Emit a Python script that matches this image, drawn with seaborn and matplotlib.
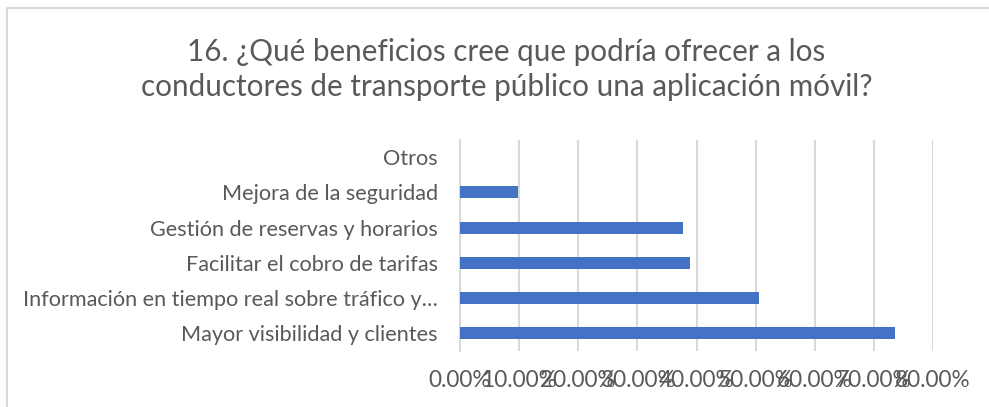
import matplotlib
matplotlib.use("Agg")
import matplotlib.pyplot as plt
from matplotlib.ticker import FuncFormatter
from matplotlib.lines import Line2D
import seaborn as sns
import pandas as pd

categories = [
    "Otros",
    "Mejora de la seguridad",
    "Gestión de reservas y horarios",
    "Facilitar el cobro de tarifas",
    "Información en tiempo real sobre tráfico y…",
    "Mayor visibilidad y clientes",
]
shares = [0.0, 0.098, 0.377, 0.389, 0.506, 0.736]
x_ticks = [0.0, 0.1, 0.2, 0.3, 0.4, 0.5, 0.6, 0.7, 0.8]
title = "16. ¿Qué beneficios cree que podría ofrecer a los\nconductores de transporte público una aplicación móvil?"

df = pd.DataFrame({"beneficio": categories, "porcentaje": shares})

sns.set_theme(style="white")
plt.rcParams["font.family"] = ["Lato", "DejaVu Sans"]

text_color = "#595959"
grid_color = "#d9d9d9"
bar_color = "#4472C4"

fig = plt.figure(figsize=(9.89, 4.07), dpi=100)
ax = fig.add_axes([0.4651, 0.1383, 0.4783, 0.5187])

sns.barplot(data=df, x="porcentaje", y="beneficio", order=categories,
            color=bar_color, width=0.34, saturation=1, linewidth=0,
            ax=ax, zorder=3)

ax.set_xlim(0, 0.8)
ax.set_xticks(x_ticks)
ax.xaxis.set_major_formatter(FuncFormatter(lambda v, p: f"{v * 100:.2f}%"))
ax.grid(axis="x", color=grid_color, linewidth=1.5, zorder=0)
ax.grid(axis="y", visible=False)
for side in ("top", "right", "bottom"):
    ax.spines[side].set_visible(False)
ax.spines["left"].set_color(grid_color)
ax.spines["left"].set_linewidth(1.5)
ax.tick_params(axis="both", length=0, colors=text_color)
ax.tick_params(axis="y", pad=16, labelsize=15.6)
ax.tick_params(axis="x", pad=14, labelsize=16.3)
ax.set_xlabel("")
ax.set_ylabel("")

fig.text(0.512, 0.83, title, ha="center", va="center", fontsize=21.3,
         color=text_color, linespacing=1.3)

# chart frame edges
fig.add_artist(Line2D([7 / 989, 1], [1 - 8 / 407, 1 - 8 / 407],
                      transform=fig.transFigure, color=grid_color, linewidth=1.5))
fig.add_artist(Line2D([7 / 989, 7 / 989], [0, 1 - 8 / 407],
                      transform=fig.transFigure, color=grid_color, linewidth=1.5))

fig.savefig("out.png", dpi=100, facecolor="white")
